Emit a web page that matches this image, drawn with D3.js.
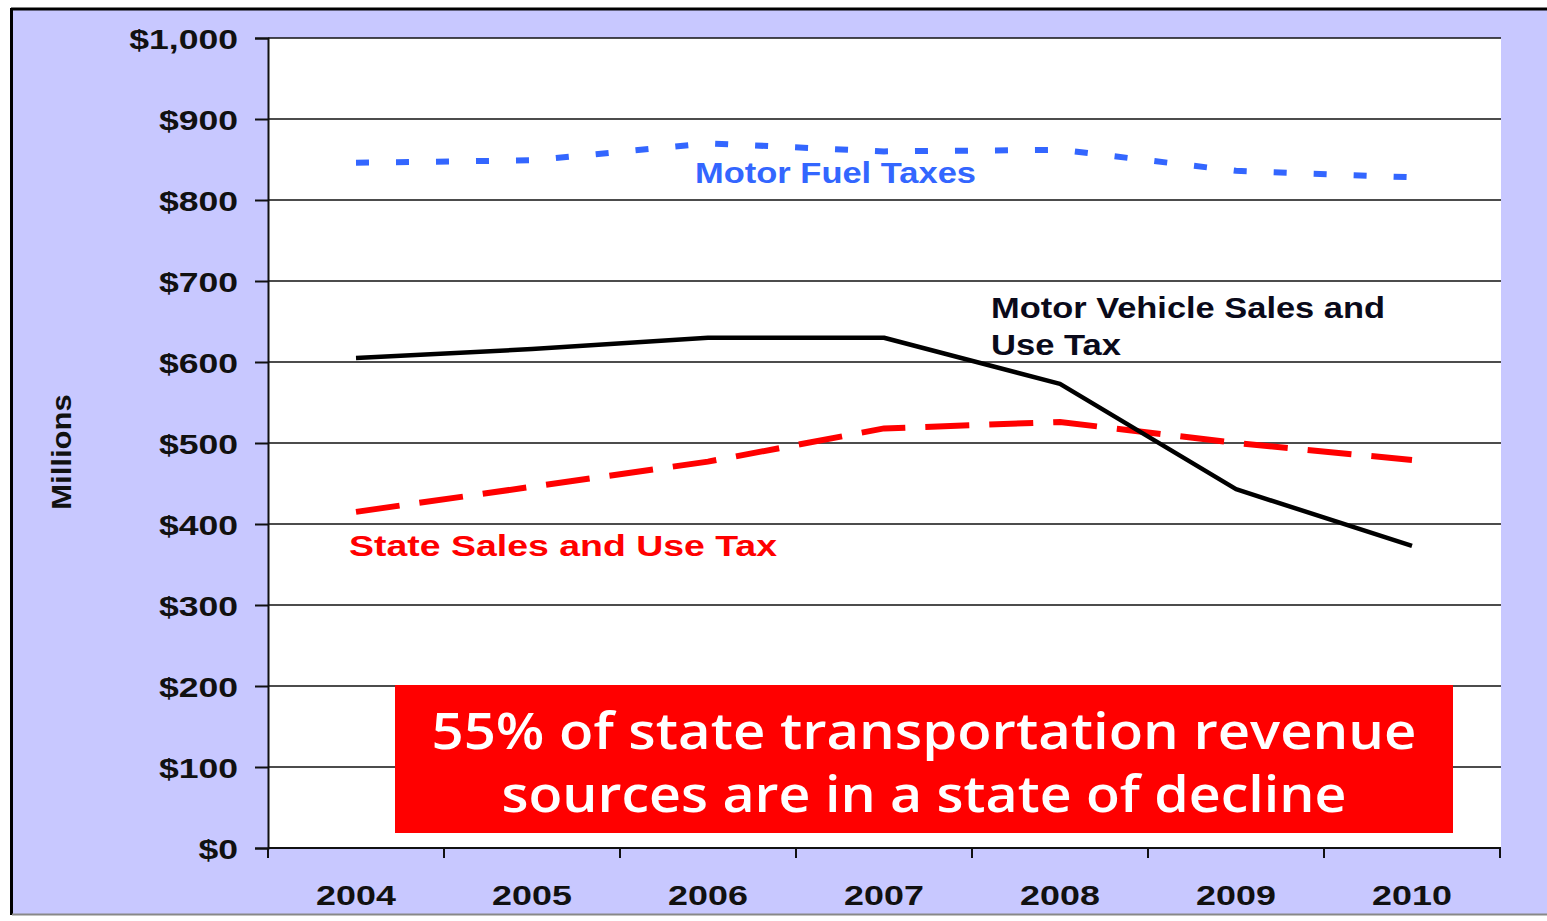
<!DOCTYPE html>
<html>
<head>
<meta charset="utf-8">
<script src="https://cdn.jsdelivr.net/npm/d3@7"></script>
<style>
  html, body { margin: 0; padding: 0; background: #fff; }
  svg { display: block; }
</style>
</head>
<body>
<div id="chart"></div>
<script>
// data (millions of dollars)
const years = ['2004', '2005', '2006', '2007', '2008', '2009', '2010'];
const motorFuel = [846, 849, 870, 860, 862, 836, 828];
const motorVehicle = [605, 616, 630, 630, 573, 443, 373];
const stateSales = [415, 446, 477, 518, 526, 500, 479];
const yTicks = [0, 100, 200, 300, 400, 500, 600, 700, 800, 900, 1000];

const width = 1547, height = 921;
const plotL = 268, plotR = 1500, plotT = 38, plotB = 848;

const svg = d3.select('#chart').append('svg')
    .attr('width', width)
    .attr('height', height);

// lavender frame
svg.append('rect')
    .attr('x', 12).attr('y', 9)
    .attr('width', width - 12).attr('height', 905)
    .attr('fill', '#c8c8ff');
svg.append('line').attr('x1', 11).attr('x2', width).attr('y1', 9).attr('y2', 9)
    .attr('stroke', '#000').attr('stroke-width', 3);
svg.append('line').attr('x1', 11.5).attr('x2', 11.5).attr('y1', 8).attr('y2', 915)
    .attr('stroke', '#000').attr('stroke-width', 3);
svg.append('line').attr('x1', 12).attr('x2', width).attr('y1', 914.5).attr('y2', 914.5)
    .attr('stroke', '#888').attr('stroke-width', 2);

// plot background
svg.append('rect')
    .attr('x', plotL).attr('y', plotT)
    .attr('width', plotR - plotL + 1).attr('height', plotB - plotT)
    .attr('fill', '#fff');

const x = d3.scaleBand().domain(years).range([plotL, plotR]);
const xc = d => x(d) + x.bandwidth() / 2;
const y = d3.scaleLinear().domain([0, 1000]).range([plotB, plotT]);

// stretch text horizontally to mimic the wide original font
function stretch(sel, k) {
    sel.each(function() {
        const w = this.getComputedTextLength();
        d3.select(this).attr('textLength', w * k).attr('lengthAdjust', 'spacingAndGlyphs');
    });
}

// gridlines
svg.append('g')
    .selectAll('line')
    .data(yTicks.filter(d => d > 0))
    .enter().append('line')
    .attr('x1', plotL).attr('x2', plotR + 1)
    .attr('y1', d => y(d)).attr('y2', d => y(d))
    .attr('stroke', '#111')
    .attr('stroke-width', 1.6);

// y axis
const yAxis = svg.append('g')
    .attr('transform', `translate(${plotL},0)`)
    .call(d3.axisLeft(y).tickValues(yTicks).tickFormat(d3.format('$,')).tickSize(13).tickPadding(17));
yAxis.select('.domain').attr('stroke', '#111').attr('stroke-width', 2);
yAxis.selectAll('.tick line').attr('stroke', '#111').attr('stroke-width', 2);
yAxis.selectAll('text')
    .attr('fill', '#111')
    .style('font-family', '"Liberation Sans", Arial, sans-serif')
    .style('font-weight', 'bold')
    .style('font-size', '28px')
    .attr('dy', '0.36em')
    .call(stretch, 1.27);

// x axis
svg.append('line')
    .attr('x1', plotL).attr('x2', plotR + 1)
    .attr('y1', plotB).attr('y2', plotB)
    .attr('stroke', '#111').attr('stroke-width', 2);
svg.append('g')
    .selectAll('line')
    .data(years.map(d => x(d)).concat([plotR]))
    .enter().append('line')
    .attr('x1', d => d).attr('x2', d => d)
    .attr('y1', plotB).attr('y2', plotB + 10)
    .attr('stroke', '#111').attr('stroke-width', 2);
svg.append('g')
    .selectAll('text')
    .data(years)
    .enter().append('text')
    .attr('x', d => xc(d))
    .attr('y', 905)
    .attr('text-anchor', 'middle')
    .attr('fill', '#111')
    .style('font-family', '"Liberation Sans", Arial, sans-serif')
    .style('font-weight', 'bold')
    .style('font-size', '28px')
    .text(d => d)
    .call(stretch, 1.28);

// y title
svg.append('text')
    .attr('transform', 'translate(71,452) rotate(-90)')
    .attr('text-anchor', 'middle')
    .attr('fill', '#111')
    .style('font-family', '"Liberation Sans", Arial, sans-serif')
    .style('font-weight', 'bold')
    .style('font-size', '27px')
    .text('Millions')
    .call(stretch, 1.15);

// lines
const line = d3.line().x((d, i) => xc(years[i])).y(d => y(d));

svg.append('path')
    .datum(stateSales)
    .attr('d', line)
    .attr('fill', 'none')
    .attr('stroke', '#ff0000')
    .attr('stroke-width', 6)
    .attr('stroke-dasharray', '44 20');

svg.append('path')
    .datum(motorFuel)
    .attr('d', line)
    .attr('fill', 'none')
    .attr('stroke', '#3366ff')
    .attr('stroke-width', 6)
    .attr('stroke-dasharray', '13 27');

svg.append('path')
    .datum(motorVehicle)
    .attr('d', line)
    .attr('fill', 'none')
    .attr('stroke', '#000')
    .attr('stroke-width', 4.5)
    .attr('stroke-linejoin', 'round');

// series labels
function label(txt, px, py, len, color) {
    svg.append('text')
        .attr('x', px).attr('y', py)
        .attr('fill', color)
        .attr('textLength', len)
        .attr('lengthAdjust', 'spacingAndGlyphs')
        .style('font-family', '"Liberation Sans", Arial, sans-serif')
        .style('font-weight', 'bold')
        .style('font-size', '29px')
        .text(txt);
}
label('Motor Fuel Taxes', 695, 183, 281, '#3366ff');
label('State Sales and Use Tax', 349, 556, 428, '#ff0000');
label('Motor Vehicle Sales and', 991, 318, 394, '#0a0a1a');
label('Use Tax', 991, 355, 130, '#0a0a1a');

// callout box
svg.append('rect')
    .attr('x', 395).attr('y', 685)
    .attr('width', 1058).attr('height', 148)
    .attr('fill', '#ff0000');
const callout = [
    { t: '55% of state transportation revenue', y: 749, len: 985 },
    { t: 'sources are in a state of decline', y: 812, len: 845 }
];
svg.append('g')
    .selectAll('text')
    .data(callout)
    .enter().append('text')
    .attr('x', 924)
    .attr('y', d => d.y)
    .attr('text-anchor', 'middle')
    .attr('fill', '#fff')
    .attr('textLength', d => d.len)
    .attr('lengthAdjust', 'spacingAndGlyphs')
    .style('font-family', '"Open Sans", sans-serif')
    .style('font-weight', 600)
    .style('font-size', '50px')
    .text(d => d.t);
</script>
</body>
</html>
